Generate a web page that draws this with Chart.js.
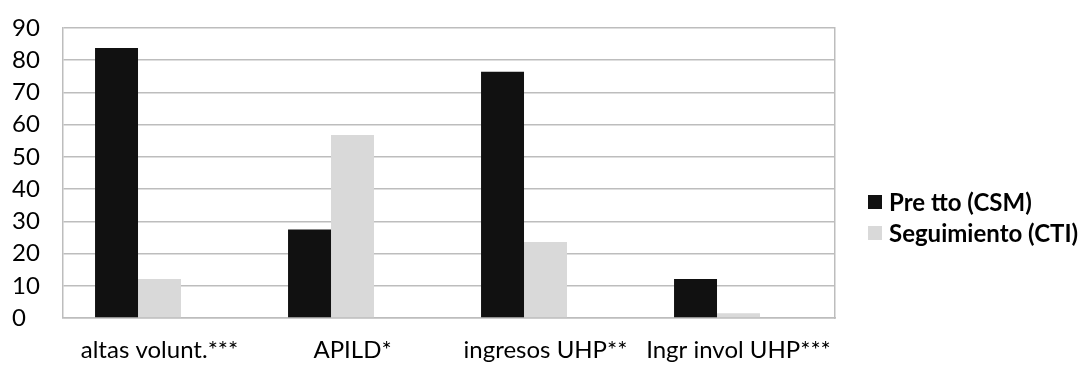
<!DOCTYPE html>
<html>
<head>
<meta charset="utf-8">
<script src="https://cdn.jsdelivr.net/npm/chart.js@4.4.0/dist/chart.umd.min.js"></script>
<style>
  html, body { margin: 0; padding: 0; background: #fff; }
  #wrap { position: relative; width: 1085px; height: 365px; }
  #legend { position: absolute; left: 868px; top: 186px; font-family: Lato, "Open Sans", sans-serif; font-weight: bold; font-size: 24px; color: #000; }
  #legend .item { display: flex; align-items: center; height: 31px; white-space: nowrap; }
  #legend .sw { width: 14px; height: 14px; margin-right: 7px; display: inline-block; }
</style>
</head>
<body>
<div id="wrap">
  <canvas id="c" width="1085" height="365"></canvas>
  <div id="legend"></div>
</div>
<script>
// Categories and series values
const categories = ['altas volunt.***', 'APILD*', 'ingresos UHP**', 'Ingr invol UHP***'];
const seriesNames = ['Pre tto (CSM)', 'Seguimiento (CTI)'];
const preTto = [83.8, 27.5, 76.4, 12.1];
const seguimiento = [12.1, 56.8, 23.6, 1.5];
// third, empty column slot in each group
const emptySlot = [null, null, null, null];
const yTicks = [0, 10, 20, 30, 40, 50, 60, 70, 80, 90];

const colors = ['#111111', '#d9d9d9'];
const FONT = 'Lato, "Open Sans", sans-serif';

const chart = new Chart(document.getElementById('c'), {
  type: 'bar',
  data: {
    labels: categories,
    datasets: [
      { label: seriesNames[0], data: preTto, backgroundColor: colors[0], categoryPercentage: 0.668, barPercentage: 1.0 },
      { label: seriesNames[1], data: seguimiento, backgroundColor: colors[1], categoryPercentage: 0.668, barPercentage: 1.0 },
      { label: '', data: emptySlot, backgroundColor: 'rgba(0,0,0,0)', categoryPercentage: 0.668, barPercentage: 1.0 }
    ]
  },
  options: {
    responsive: false,
    animation: false,
    layout: { padding: { left: 12, right: 250, top: 28, bottom: 0 } },
    plugins: { legend: { display: false }, tooltip: { enabled: false } },
    scales: {
      x: {
        grid: { display: false },
        border: { display: true, color: '#bdbdbd', width: 1.5 },
        ticks: { color: '#000', font: { family: FONT, size: 24 }, padding: 10, maxRotation: 0, autoSkip: false },
        afterFit(scale) { scale.height = 47; }
      },
      y: {
        min: 0, max: 90,
        afterBuildTicks(scale) { scale.ticks = yTicks.map(v => ({ value: v })); },
        grid: { color: '#bdbdbd', lineWidth: 1.5, drawTicks: false },
        border: { display: true, color: '#bdbdbd', width: 1.5 },
        ticks: { color: '#000', font: { family: FONT, size: 24 }, padding: 0, autoSkip: false, crossAlign: 'far' },
        afterFit(scale) { scale.width = 51; }
      },
      y2: {
        position: 'right',
        min: 0, max: 90,
        grid: { display: false },
        border: { display: true, color: '#bdbdbd', width: 1.5 },
        ticks: { display: false },
        afterFit(scale) { scale.width = 0; }
      }
    }
  }
});

// Legend built from the series names and colours
const legend = document.getElementById('legend');
seriesNames.forEach((name, i) => {
  const item = document.createElement('div');
  item.className = 'item';
  const sw = document.createElement('span');
  sw.className = 'sw';
  sw.style.background = colors[i];
  item.appendChild(sw);
  item.appendChild(document.createTextNode(name));
  legend.appendChild(item);
});
</script>
</body>
</html>
